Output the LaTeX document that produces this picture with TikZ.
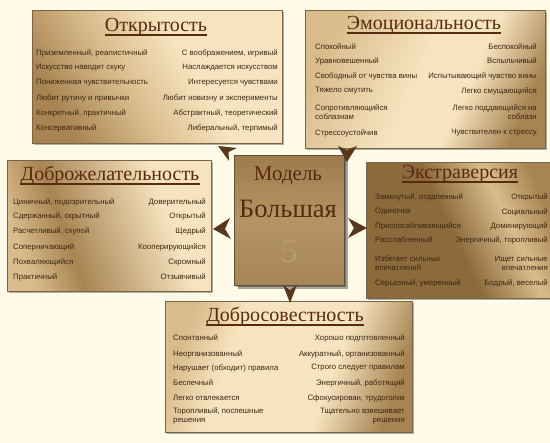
\documentclass[tikz,border=0pt]{standalone}
\usepackage{fontspec}
\setmainfont{Liberation Serif}
\newfontfamily\bodyfont{Liberation Sans}
\usetikzlibrary{shadows,calc}
\definecolor{bgc}{RGB}{255,251,232}
\definecolor{cLight}{RGB}{246,228,192}
\definecolor{cMid}{RGB}{218,188,140}
\definecolor{cDark}{RGB}{168,132,82}
\definecolor{cDarker}{RGB}{140,106,60}
\definecolor{cenTop}{RGB}{158,124,76}
\definecolor{cenMid}{RGB}{180,148,102}
\definecolor{cenBot}{RGB}{166,133,86}
\definecolor{boxline}{RGB}{120,100,72}
\definecolor{titlec}{RGB}{88,42,16}
\definecolor{txtc}{RGB}{60,38,18}
\definecolor{arrowc}{RGB}{88,56,28}
\definecolor{fivec}{RGB}{184,154,110}
\pgfdeclarehorizontalshading{shOpen}{100bp}{color(0bp)=(cDark); color(25bp)=(cDark); color(42bp)=(cMid); color(58bp)=(cLight); color(100bp)=(cLight)}
\pgfdeclarehorizontalshading{shEmo}{100bp}{color(0bp)=(cMid); color(25bp)=(cMid); color(48bp)=(cLight); color(60bp)=(cLight); color(75bp)=(cDark); color(100bp)=(cDark)}
\pgfdeclarehorizontalshading{shGood}{100bp}{color(0bp)=(cMid); color(25bp)=(cMid); color(38bp)=(cDark); color(66bp)=(cLight); color(100bp)=(cLight)}
\pgfdeclarehorizontalshading{shExt}{100bp}{color(0bp)=(cDarker); color(25bp)=(cDarker); color(47bp)=(cDarker); color(63bp)=(cMid); color(75bp)=(cDark); color(100bp)=(cDark)}
\pgfdeclarehorizontalshading{shCons}{100bp}{color(0bp)=(cMid); color(25bp)=(cMid); color(36bp)=(cLight); color(60bp)=(cLight); color(75bp)=(cDark); color(100bp)=(cDark)}
\pgfdeclareverticalshading{shCen}{100bp}{color(0bp)=(cenBot); color(25bp)=(cenBot); color(50bp)=(cenMid); color(75bp)=(cenTop); color(100bp)=(cenTop)}
\tikzset{
  box/.style={draw=boxline, line width=0.6pt, anchor=north west, inner sep=0pt,
    drop shadow={shadow xshift=2pt, shadow yshift=-2pt, fill=black, opacity=0.3}},
  ttl/.style={anchor=base, inner sep=0pt, text=titlec, font=\fontsize{20}{22}\selectfont},
  uline/.style={draw=titlec, line width=1.6pt},
  lt/.style={anchor=west, inner sep=0pt, text=txtc, font=\bodyfont\fontsize{7.8}{9}\selectfont, align=left},
  rt/.style={anchor=east, inner sep=0pt, text=txtc, font=\bodyfont\fontsize{7.8}{9}\selectfont, align=right},
  arr/.style={fill=arrowc, draw=none}
}
\newcommand{\ul}[1]{\draw[uline] ([yshift=-3pt]#1.base west) -- ([yshift=-3pt]#1.base east);}
\begin{document}
\begin{tikzpicture}[x=1pt,y=-1pt]
\path[use as bounding box, fill=bgc] (0,0) rectangle (550,443);
\clip (0,0) rectangle (550,443);

% ---------- boxes ----------
\node[box, shading=shOpen, shading angle=30, minimum width=250pt, minimum height=133pt] (bOpen) at (32,10) {};
\node[box, shading=shEmo, shading angle=-25, minimum width=240pt, minimum height=138pt] (bEmo) at (305,10) {};
\node[box, shading=shGood, shading angle=20, minimum width=204pt, minimum height=131pt] (bGood) at (7,160) {};
\node[box, shading=shExt, shading angle=25, minimum width=192pt, minimum height=136pt] (bExt) at (366,162) {};
\node[box, shading=shCons, shading angle=-20, minimum width=247pt, minimum height=131pt] (bCons) at (165,301) {};
\node[box, shading=shCen, draw=boxline!80!black, minimum width=110pt, minimum height=130pt,
  drop shadow={shadow xshift=4pt, shadow yshift=-4pt, fill=black, opacity=0.35}] (c) at (234,155) {};

% ---------- centre ----------
\node[anchor=center, text=titlec, font=\fontsize{21}{23}\selectfont] (cM) at (288,176) {Модель};
\node[anchor=center, text=titlec, font=\fontsize{26.5}{29}\selectfont] (cB) at (288,209) {Большая};
\node[anchor=center, text=fivec, font=\fontsize{34}{36}\selectfont] (c5) at (289,252) {5};

% ---------- arrowheads ----------
\begin{scope}[shift={(c.north west)}]
  \fill[arr] (-16,-9) -- (3,-7) -- (-5.5,-3) -- (-5,6) -- cycle;
  \fill[arr] (-21,74) -- (-4,63) -- (-9,74) -- (-3,84) -- cycle;
  \fill[arr] (133,73) -- (114,63) -- (120,73) -- (114,83) -- cycle;
  \fill[arr] (104,-9) -- (113,-5) -- (123,-9) -- (113,7) -- cycle;
  \fill[arr] (49,130) -- (56,135) -- (63,130) -- (56,148) -- cycle;
\end{scope}

% ---------- Открытость ----------
\node[ttl] (tOpen) at (156,32) {Открытость}; \ul{tOpen}
\node[lt] (o1l) at (36,53) {Приземленный, реалистичный};
\node[rt] (o1r) at (278,53) {С воображением, игривый};
\node[lt] (o2l) at (36,68) {Искусство наводит скуку};
\node[rt] (o2r) at (278,68) {Наслаждается искусством};
\node[lt] (o3l) at (36,83) {Пониженная чувствительность};
\node[rt] (o3r) at (278,83) {Интересуется чувствами};
\node[lt] (o4l) at (36,98) {Любит рутину и привычки};
\node[rt] (o4r) at (278,98) {Любит новизну и эксперименты};
\node[lt] (o5l) at (36,113) {Конкретный, практичный};
\node[rt] (o5r) at (278,113) {Абстрактный, теоретический};
\node[lt] (o6l) at (36,128) {Консервативный};
\node[rt] (o6r) at (278,128) {Либеральный, терпимый};

% ---------- Эмоциональность ----------
\node[ttl] (tEmo) at (424,30) {Эмоциональность}; \ul{tEmo}
\node[lt] (e1l) at (315,47) {Спокойный};
\node[rt] (e1r) at (537,47) {Беспокойный};
\node[lt] (e2l) at (315,61) {Уравновешенный};
\node[rt] (e2r) at (537,61) {Вспыльчивый};
\node[lt] (e3l) at (315,76) {Свободный от чувства вины};
\node[rt] (e3r) at (537,76) {Испытывающий чувство вины};
\node[lt] (e4l) at (315,91) {Тяжело смутить};
\node[rt] (e4r) at (537,91) {Легко смущающийся};
\node[lt] (e5l) at (315,112) {Сопротивляющийся\\соблазнам};
\node[rt] (e5r) at (537,112) {Легко поддающийся на\\соблазн};
\node[lt] (e6l) at (315,133) {Стрессоустойчив};
\node[rt] (e6r) at (537,133) {Чувствителен к стрессу};

% ---------- Доброжелательность ----------
\node[ttl] (tGood) at (110,181) {Доброжелательность}; \ul{tGood}
\node[lt] (g1l) at (13,202) {Циничный, подозрительный};
\node[rt] (g1r) at (206,202) {Доверительный};
\node[lt] (g2l) at (13,216) {Сдержанный, скрытный};
\node[rt] (g2r) at (206,216) {Открытый};
\node[lt] (g3l) at (13,231) {Расчетливый, скупой};
\node[rt] (g3r) at (206,231) {Щедрый};
\node[lt] (g4l) at (13,247) {Соперничающий};
\node[rt] (g4r) at (206,247) {Кооперирующийся};
\node[lt] (g5l) at (13,262) {Похваляющийся};
\node[rt] (g5r) at (206,262) {Скромный};
\node[lt] (g6l) at (13,277) {Практичный};
\node[rt] (g6r) at (206,277) {Отзывчивый};

% ---------- Экстраверсия ----------
\node[ttl] (tExt) at (460,179) {Экстраверсия}; \ul{tExt}
\node[lt] (x1l) at (375,197) {Замкнутый, отдаленный};
\node[rt] (x1r) at (548,197) {Открытый};
\node[lt] (x2l) at (375,212) {Одиночка};
\node[rt] (x2r) at (548,212) {Социальный};
\node[lt] (x3l) at (375,226) {Приспосабливающийся};
\node[rt] (x3r) at (548,226) {Доминирующий};
\node[lt] (x4l) at (375,240) {Расслабленный};
\node[rt] (x4r) at (548,240) {Энергичный, торопливый};
\node[lt] (x5l) at (375,263) {Избегает сильных\\впечатлений};
\node[rt] (x5r) at (548,263) {Ищет сильные\\впечатления};
\node[lt] (x6l) at (375,283) {Серьезный, умеренный};
\node[rt] (x6r) at (548,283) {Бодрый, веселый};

% ---------- Добросовестность ----------
\node[ttl] (tCons) at (285,322) {Добросовестность}; \ul{tCons}
\node[lt] (d1l) at (173,338) {Спонтанный};
\node[rt] (d1r) at (405,338) {Хорошо подготовленный};
\node[lt] (d2l) at (173,354) {Неорганизованный};
\node[rt] (d2r) at (405,354) {Аккуратный, организованный};
\node[lt] (d3l) at (173,368) {Нарушает (обходит) правила};
\node[rt] (d3r) at (405,368) {Строго следует правилам};
\node[lt] (d4l) at (173,383) {Беспечный};
\node[rt] (d4r) at (405,383) {Энергичный, работящий};
\node[lt] (d5l) at (173,398) {Легко отвлекается};
\node[rt] (d5r) at (405,398) {Сфокусирован, трудоголик};
\node[lt] (d6l) at (173,416) {Торопливый, поспешные\\решения};
\node[rt] (d6r) at (405,416) {Тщательно взвешивает\\решения};
\end{tikzpicture}
\end{document}
